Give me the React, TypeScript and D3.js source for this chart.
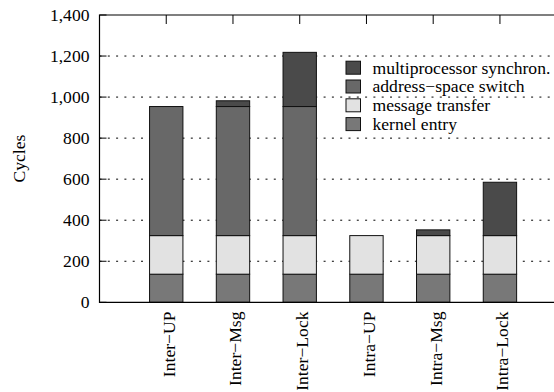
import React, { useEffect, useRef } from "react";
import * as d3 from "d3";

// chart data
const categories = ["Inter−UP", "Inter−Msg", "Inter−Lock", "Intra−UP", "Intra−Msg", "Intra−Lock"];
const kernelEntry = [137, 137, 137, 137, 137, 137];
const messageTransfer = [188, 188, 188, 188, 188, 188];
const addressSpaceSwitch = [629, 629, 629, 0, 0, 0];
const multiprocessorSync = [0, 28, 264, 0, 28, 260];
const yTicks = [0, 200, 400, 600, 800, 1000, 1200, 1400];

const seriesNames = ["kernel entry", "message transfer", "address−space switch", "multiprocessor synchron."];
const seriesColors = ["#787878", "#e2e2e2", "#686868", "#4a4a4a"];

const W = 554;
const H = 392;
const FONT = "'Liberation Serif', 'Times New Roman', serif";
const FS = "17.6px";

const App: React.FC = () => {
  const svgRef = useRef<SVGSVGElement | null>(null);

  useEffect(() => {
    document.body.style.margin = "0";
    const svg = d3.select(svgRef.current);
    svg.selectAll("*").remove();

    const left = 99.5;
    const top = 15;
    const bottom = 302.3;

    const x = d3.scaleLinear().domain([-1, 5.81]).range([left, 554]);
    const y = d3.scaleLinear().domain([0, 1400]).range([bottom, top]);
    const boxWidth = 0.5;

    // stacked layout
    const rows = categories.map((c, i) => ({
      cat: c,
      i,
      s0: kernelEntry[i],
      s1: messageTransfer[i],
      s2: addressSpaceSwitch[i],
      s3: multiprocessorSync[i],
    }));
    const stack = d3.stack<any>().keys(["s0", "s1", "s2", "s3"]);
    const layers = stack(rows);

    // grid lines (dotted)
    svg
      .append("g")
      .selectAll("line")
      .data(yTicks.filter((t) => t > 0 && t < 1400))
      .enter()
      .append("line")
      .attr("x1", left)
      .attr("x2", W)
      .attr("y1", (d) => y(d))
      .attr("y2", (d) => y(d))
      .attr("stroke", "#000")
      .attr("stroke-width", 1)
      .attr("stroke-dasharray", "2,6.3");

    // bars
    layers.forEach((layer, k) => {
      svg
        .append("g")
        .selectAll("rect")
        .data(layer.filter((d) => d[1] - d[0] > 0))
        .enter()
        .append("rect")
        .attr("x", (d) => x(d.data.i - boxWidth / 2))
        .attr("width", x(boxWidth) - x(0))
        .attr("y", (d) => y(d[1]))
        .attr("height", (d) => y(d[0]) - y(d[1]))
        .attr("fill", seriesColors[k])
        .attr("stroke", "#111")
        .attr("stroke-width", 1);
    });

    // border (right side is cut off in the reference)
    svg
      .append("path")
      .attr("d", `M${W},${top}H${left}V${bottom}H${W}`)
      .attr("fill", "none")
      .attr("stroke", "#000")
      .attr("stroke-width", 1.2);

    // y ticks
    const yAxis = svg.append("g");
    yTicks.forEach((t) => {
      yAxis
        .append("line")
        .attr("x1", left)
        .attr("x2", left + 7)
        .attr("y1", y(t))
        .attr("y2", y(t))
        .attr("stroke", "#000");
      yAxis
        .append("text")
        .attr("x", 89.5)
        .attr("y", y(t))
        .attr("dy", "0.35em")
        .attr("text-anchor", "end")
        .style("font-family", FONT)
        .style("font-size", FS)
        .text(d3.format(",")(t));
    });

    // x ticks top + labels
    const xAxis = svg.append("g");
    categories.forEach((c, i) => {
      xAxis
        .append("line")
        .attr("x1", x(i))
        .attr("x2", x(i))
        .attr("y1", top)
        .attr("y2", top + 9)
        .attr("stroke", "#000");
      xAxis
        .append("text")
        .attr("transform", `translate(${x(i) + 8.5},311.5) rotate(-90)`)
        .attr("text-anchor", "end")
        .style("font-family", FONT)
        .style("font-size", FS)
        .text(c);
    });

    // y axis title
    svg
      .append("text")
      .attr("transform", `translate(24.5,${(top + bottom) / 2}) rotate(-90)`)
      .attr("text-anchor", "middle")
      .style("font-family", FONT)
      .style("font-size", FS)
      .text("Cycles");

    // legend (top entry is the top of the stack)
    const legend = svg.append("g");
    const legendRows = [3, 2, 1, 0];
    legendRows.forEach((k, r) => {
      const cy = 67.7 + r * 18.8;
      legend
        .append("rect")
        .attr("x", 346)
        .attr("y", cy - 6.5)
        .attr("width", 14.5)
        .attr("height", 13)
        .attr("fill", seriesColors[k])
        .attr("stroke", "#111");
      legend
        .append("text")
        .attr("x", 372.5)
        .attr("y", cy)
        .attr("dy", "0.33em")
        .style("font-family", FONT)
        .style("font-size", FS)
        .text(seriesNames[k]);
    });
  }, []);

  return <svg ref={svgRef} width={W} height={H} style={{ display: "block", background: "#fff" }} />;
};

export default App;
